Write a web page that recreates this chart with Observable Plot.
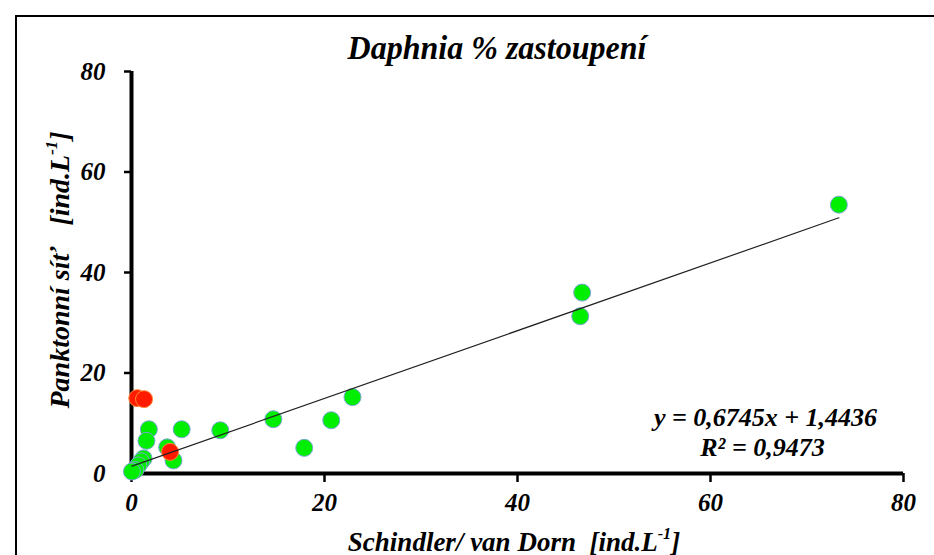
<!DOCTYPE html>
<html>
<head>
<meta charset="utf-8">
<script src="https://cdn.jsdelivr.net/npm/d3@7"></script>
<script src="https://cdn.jsdelivr.net/npm/@observablehq/plot@0.6"></script>
<style>
  html, body { margin: 0; padding: 0; background: #fff; }
  #wrap { position: relative; width: 934px; height: 555px; overflow: hidden; }
  #frame { position: absolute; left: 15px; top: 15px; width: 1000px; height: 1000px; border-left: 2px solid #000; border-top: 2px solid #000; }
  .t { position: absolute; font-family: "Liberation Serif", "Times New Roman", serif; font-weight: bold; font-style: italic; color: #000; white-space: nowrap; line-height: 1; }
  #title { left: 497px; top: 48px; font-size: 33px; transform: translate(-50%, -50%) scaleX(0.97); }
  #xlabel { left: 514px; top: 542px; font-size: 27px; transform: translate(-50%, -50%); }
  #ylabel { left: 60px; top: 270px; font-size: 28px; transform: translate(-50%, -50%) rotate(-90deg); }
  sup { font-size: 0.6em; vertical-align: 0.7em; line-height: 0; }
</style>
</head>
<body>
<div id="wrap">
  <div id="frame"></div>
  <div id="chart"></div>
  <div class="t" id="title">Daphnia % zastoupení</div>
  <div class="t" id="xlabel">Schindler/ van Dorn&nbsp;&nbsp;[ind.L<sup>-1</sup>]</div>
  <div class="t" id="ylabel">Panktonní síť&nbsp;&nbsp;&nbsp;[ind.L<sup>-1</sup>]</div>
</div>
<script>
// Green points (Schindler/van Dorn vs. plankton net)
const greenX = [73.3, 46.7, 46.5, 22.9, 20.7, 17.9, 14.7, 9.2, 5.2, 4.35, 3.7, 1.8, 1.55, 1.25, 1.0, 0.7, 0.4, 0.05];
const greenY = [53.5, 36.0, 31.3, 15.2, 10.6, 5.1, 10.8, 8.6, 8.8, 2.6, 5.2, 8.8, 6.5, 3.0, 2.4, 1.6, 0.7, 0.4];
// Red points
const redX = [0.6, 1.3, 4.0];
const redY = [15.0, 14.8, 4.3];
// Trend line
const slope = 0.6745;
const intercept = 1.4436;
const equationText = "y = 0,6745x + 1,4436";
const r2Text = "R² = 0,9473";
const ticks = [0, 20, 40, 60, 80];

const green = greenX.map((x, i) => ({x, y: greenY[i]}));
const red = redX.map((x, i) => ({x, y: redY[i]}));
const xmin = d3.min(greenX), xmax = d3.max(greenX);
const trend = [xmin, xmax].map(x => ({x, y: slope * x + intercept}));

const font = {fontFamily: "Liberation Serif, Times New Roman, serif", fontWeight: "bold", fontStyle: "italic"};

const chart = Plot.plot({
  width: 934,
  height: 555,
  marginLeft: 131,
  marginRight: 31,
  marginTop: 71,
  marginBottom: 82,
  style: {background: "transparent", ...font, fontSize: "24px", color: "#000"},
  x: {domain: [0, 80], ticks},
  y: {domain: [0, 80], ticks},
  marks: [
    Plot.axisX({ticks, tickSize: 9, tickPadding: 11, strokeWidth: 2.5, label: null, fontSize: 25, ...font}),
    Plot.axisY({ticks, tickSize: 7, tickPadding: 19, strokeWidth: 2.5, label: null, fontSize: 25, ...font}),
    Plot.ruleY([0], {stroke: "#000", strokeWidth: 4}),
    Plot.ruleX([0], {stroke: "#000", strokeWidth: 4}),
    Plot.dot(green, {x: "x", y: "y", r: 8.5, fill: "#00ee00", stroke: "#7aa6d6", strokeWidth: 1}),
    Plot.dot(red, {x: "x", y: "y", r: 8.5, fill: "#ff1a00", stroke: "#ff8a3a", strokeWidth: 1}),
    Plot.line(trend, {x: "x", y: "y", stroke: "#222", strokeWidth: 1.2}),
    Plot.text([equationText], {frameAnchor: "bottom-right", dx: -138, dy: -48, textAnchor: "middle", fontSize: 26, ...font}),
    Plot.text([r2Text], {frameAnchor: "bottom-right", dx: -141, dy: -18, textAnchor: "middle", fontSize: 26, ...font})
  ]
});
chart.style.position = "absolute";
chart.style.left = "0";
chart.style.top = "0";
document.getElementById("chart").appendChild(chart);
</script>
</body>
</html>
